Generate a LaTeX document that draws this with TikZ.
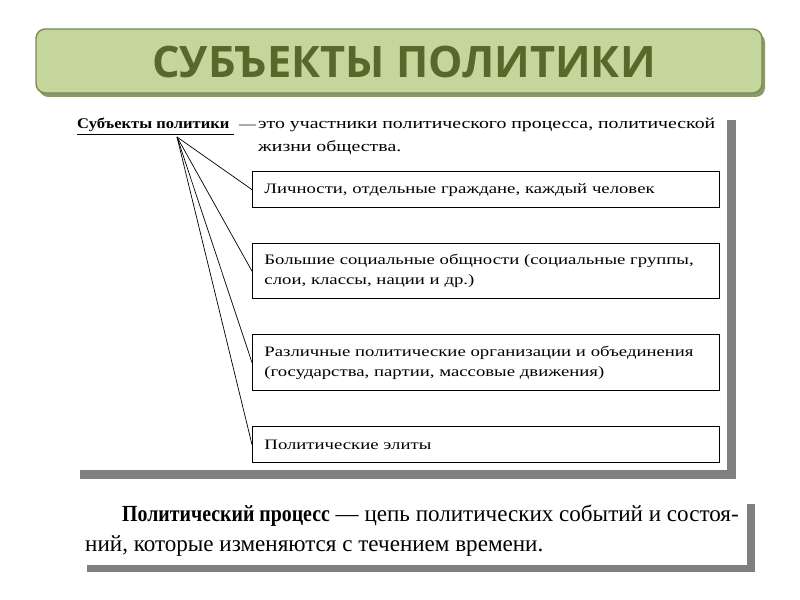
\documentclass[tikz,border=0pt]{standalone}
\usepackage{fontspec}
\setmainfont{Liberation Serif}[BoldFeatures={FakeStretch=0.86}]
\newfontfamily\scanfont[FakeStretch=1.3, BoldFeatures={FakeStretch=1.12}]{Liberation Serif}
\newfontfamily\headfont{Open Sans}
\usetikzlibrary{calc}

\definecolor{barfill}{RGB}{196,214,155}
\definecolor{barline}{RGB}{122,140,74}
\definecolor{barshade}{RGB}{140,150,112}
\definecolor{bartext}{RGB}{88,104,42}
\definecolor{panelshade}{RGB}{128,128,128}

\tikzset{
  itembox/.style={draw=black, line width=1.1pt, anchor=north west, inner xsep=0.33cm,
    minimum width=14.01cm, text width=13.3cm, align=left,
    font=\scanfont\fontsize{12.3}{17}\selectfont},
  scantext/.style={anchor=base west, inner sep=0pt, font=\scanfont\fontsize{13}{17}\selectfont},
  bigtext/.style={anchor=base west, inner sep=0pt, font=\fontsize{19.7}{24}\selectfont},
}

\begin{document}
\begin{tikzpicture}[x=0.03cm, y=-0.03cm]
			%%%%% START %%%%%
			\useasboundingbox (0,0) rectangle (800,600);
			
			% title bar
			\fill[barshade, rounded corners=8] (39,33) rectangle (765,97);
			\draw[fill=barfill, draw=barline, line width=1.2pt, rounded corners=8] (36,29) rectangle (762,93);
			\node[font=\headfont\bfseries\fontsize{37}{42}\selectfont, text=bartext] (title) at (404,62) {СУБЪЕКТЫ ПОЛИТИКИ};
			
			% upper panel
			\fill[panelshade] (80,120) rectangle (736,479);
			\fill[white] (71,111) rectangle (727,470);
			
			\node[scantext, font=\scanfont\fontsize{12.6}{17}\selectfont] (subj) at (77,129) {\underline{\textbf{Субъекты политики}\ }};
			\node[scantext, font=\scanfont\fontsize{11}{17}\selectfont] (dash) at (239,129) {—};
			\node[scantext] (defn) at (258,129) {это участники политического процесса, политической};
			\node[scantext] (defn2) at (258,152) {жизни общества.};
			\coordinate (hub) at (177,137);
			
			\node[itembox, minimum height=1.08cm] (item1) at (252,171) {Личности, отдельные граждане, каждый человек};
			\node[itembox, minimum height=1.65cm] (item2) at (252,243) {Большие социальные общности (социальные группы, слои, классы, нации и др.)};
			\node[itembox, minimum height=1.68cm] (item3) at (252,334) {Различные политические организации и объединения (государства, партии, массовые движения)};
			\node[itembox, minimum height=1.08cm] (item4) at (252,426) {Политические элиты};
			
			\foreach \i in {1,...,4}
				\draw[line width=0.6pt] (hub) -- (item\i.west);
			
			% lower panel
			\fill[panelshade] (87,504) rectangle (755,572);
			\fill[white] (79,496) rectangle (747,565);
			\node[bigtext] (proc) at (122,522) {\textbf{Политический процесс} — цепь политических событий и состоя-};
			\node[bigtext] (proc2) at (85,552) {ний, которые изменяются с течением времени.};
			
			%%%%% END %%%%%
\end{tikzpicture}
\end{document}
